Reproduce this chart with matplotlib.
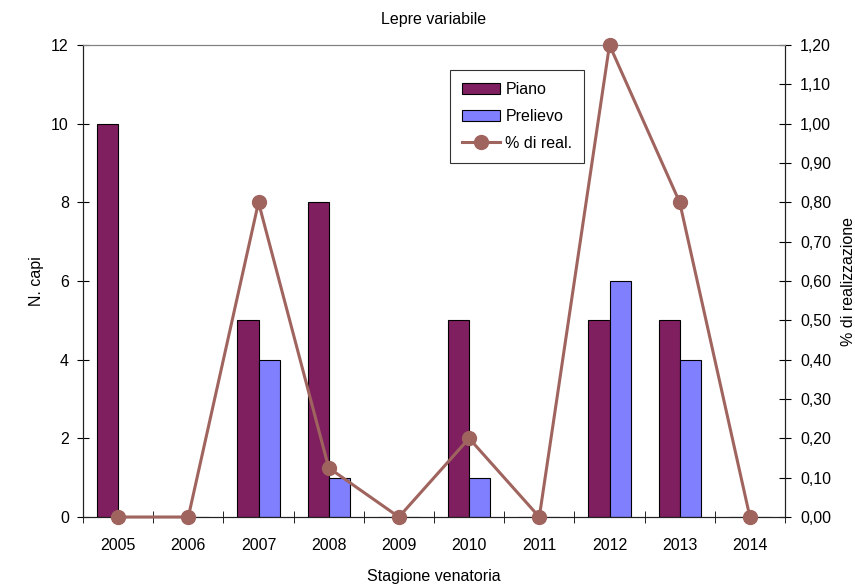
import numpy as np
import matplotlib
matplotlib.use('Agg')
import matplotlib.pyplot as plt
from matplotlib.ticker import FixedLocator, FuncFormatter

plt.rcParams['font.family'] = ['Liberation Sans', 'DejaVu Sans']
plt.rcParams['font.size'] = 11.5

# Data
seasons = ['2005', '2006', '2007', '2008', '2009', '2010', '2011', '2012', '2013', '2014']
piano = [10, 0, 5, 8, 0, 5, 0, 5, 5, 0]
prelievo = [0, 0, 4, 1, 0, 1, 0, 6, 4, 0]
realizzazione = [0.0, 0.0, 0.80, 0.125, 0.0, 0.20, 0.0, 1.20, 0.80, 0.0]

col_piano = '#7F1F5F'
col_prelievo = '#8080FF'
col_line = '#A0645F'

fig = plt.figure(figsize=(8.55, 5.85), dpi=100)
# plot area: x 83..785 px, y 45..517 px
ax = fig.add_axes([83 / 855, 1 - 517 / 585, 702 / 855, 472 / 585])
ax2 = ax.twinx()

x = np.arange(len(seasons))
w = 0.3
b1 = ax.bar(x - w / 2, piano, w, color=col_piano, edgecolor='black', linewidth=0.8, label='Piano', zorder=2)
b2 = ax.bar(x + w / 2, prelievo, w, color=col_prelievo, edgecolor='black', linewidth=0.8, label='Prelievo', zorder=2)

ln, = ax2.plot(x, realizzazione, color=col_line, linewidth=2.2, marker='o', markersize=10,
               label='% di real.', clip_on=False, zorder=3)

ax.set_xlim(-0.5, len(seasons) - 0.5)
ax.set_ylim(0, 12)
ax2.set_ylim(0, 1.2)

ax.set_yticks(np.arange(0, 13, 2))
ax2.set_yticks(np.arange(0, 1.21, 0.1))
ax2.yaxis.set_major_formatter(FuncFormatter(lambda v, p: ('%.2f' % v).replace('.', ',')))

ax.set_xticks(x)
ax.set_xticklabels(seasons)
ax.xaxis.set_minor_locator(FixedLocator(np.arange(-0.5, len(seasons), 1.0)))
ax.tick_params(axis='x', which='major', length=0, pad=15)
ax.tick_params(axis='x', which='minor', length=8, direction='inout')
ax.tick_params(axis='y', direction='inout', length=8.5, pad=6)
ax2.tick_params(axis='y', direction='inout', length=8.5, pad=6.5)

for a in (ax, ax2):
    a.spines['top'].set_color('#808080')
    a.spines['left'].set_color('#222222')
    a.spines['right'].set_color('#222222')
    a.spines['bottom'].set_color('#222222')

ax.set_xlabel('Stagione venatoria', labelpad=12)
ax.set_ylabel('N. capi', labelpad=5)
ax2.set_ylabel('% di realizzazione', labelpad=7)
ax.set_title('Lepre variabile', fontsize=11.5, pad=15)

leg = ax.legend(handles=[b1, b2, ln], loc='upper left', bbox_to_anchor=(0.523, 0.947),
                frameon=True, fancybox=False, edgecolor='black', handlelength=2.4,
                borderpad=0.75, labelspacing=0.75, handletextpad=0.3, borderaxespad=0)
leg.get_frame().set_linewidth(0.8)
leg.set_zorder(5)

fig.savefig('out.png', dpi=100)
